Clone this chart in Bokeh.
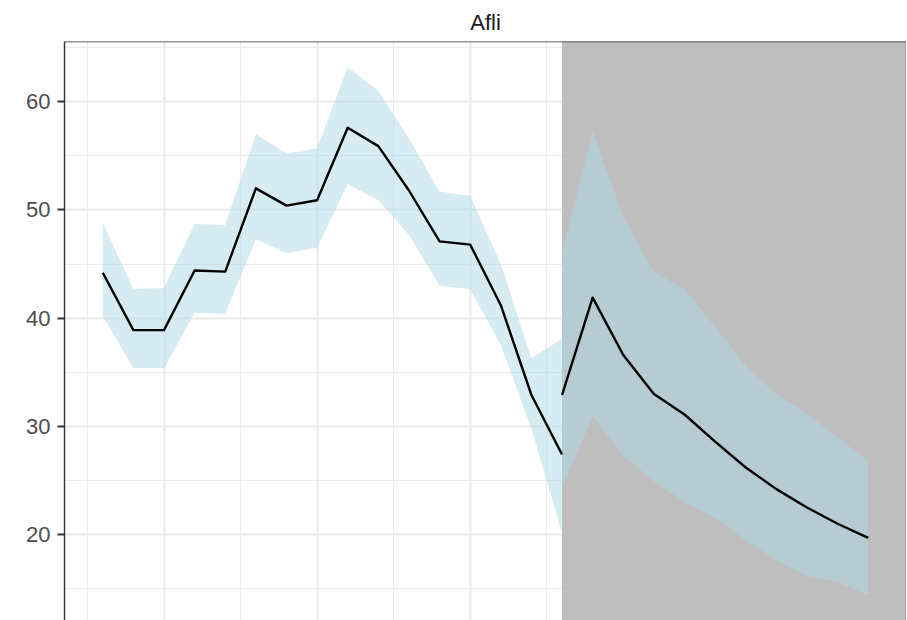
from bokeh.plotting import figure
from bokeh.models import Range1d, FixedTicker, Span
from bokeh.embed import file_html
from bokeh.resources import INLINE

# ---- data ----
hist_years = list(range(1998, 2014))
hist_mid = [44.2, 38.9, 38.9, 44.4, 44.3, 52.0, 50.4, 50.9, 57.6, 55.9, 51.8, 47.1, 46.8, 41.2, 32.9, 27.4]
hist_upper = [48.8, 42.7, 42.8, 48.7, 48.6, 57.0, 55.2, 55.7, 63.2, 61.0, 56.6, 51.7, 51.3, 45.0, 36.3, 38.1]
hist_lower = [40.2, 35.4, 35.4, 40.5, 40.4, 47.3, 46.0, 46.5, 52.4, 50.9, 47.7, 43.0, 42.7, 37.5, 29.8, 20.1]

fc_years = list(range(2013, 2024))
fc_mid = [32.9, 41.9, 36.6, 33.0, 31.1, 28.6, 26.2, 24.2, 22.5, 21.0, 19.7]
fc_upper = [46.1, 57.3, 49.4, 44.3, 42.7, 39.2, 35.6, 33.0, 31.2, 29.0, 26.8]
fc_lower = [24.4, 30.9, 27.3, 24.9, 23.0, 21.5, 19.5, 17.6, 16.2, 15.6, 14.4]

shade_start = 2013
title_text = "Afli"
y_ticks = [20, 30, 40, 50, 60]
y_minor = [15, 25, 35, 45, 55, 65]
x_ticks = [1995, 2000, 2005, 2010, 2015, 2020, 2025]
x_minor = [1997.5, 2002.5, 2007.5, 2012.5, 2017.5, 2022.5]

X0, X1 = 1996.75, 2024.25
Y0, Y1 = 12.06, 65.57

p = figure(width=906, height=620, output_backend="svg", toolbar_location=None,
           x_range=Range1d(X0, X1), y_range=Range1d(Y0, Y1),
           min_border_left=64, min_border_right=0, min_border_bottom=0, min_border_top=41)

p.title.text = title_text
p.title.align = "center"
p.title.text_font = "Liberation Sans"
p.title.text_font_size = "22px"
p.title.text_font_style = "normal"
p.title.text_color = "#1A1A1A"
p.title.text_line_height = 0.7
p.title.padding = 0
p.title.standoff = 14
p.title.offset = 0

p.background_fill_color = "white"
p.border_fill_color = "white"
p.outline_line_color = None

# x axis hidden (cropped in reference)
p.xaxis.visible = False
p.xgrid.ticker = FixedTicker(ticks=x_ticks, minor_ticks=x_minor)
p.xgrid.grid_line_color = "#EBEBEB"
p.xgrid.grid_line_width = 2
p.xgrid.minor_grid_line_color = "#EBEBEB"
p.xgrid.minor_grid_line_width = 1

yt = FixedTicker(ticks=y_ticks, minor_ticks=y_minor)
p.yaxis.ticker = yt
p.ygrid.ticker = yt
p.ygrid.grid_line_color = "#EBEBEB"
p.ygrid.grid_line_width = 2
p.ygrid.minor_grid_line_color = "#EBEBEB"
p.ygrid.minor_grid_line_width = 1

p.yaxis.axis_line_color = "#333333"
p.yaxis.axis_line_width = 1.4
p.yaxis.major_tick_line_color = "#333333"
p.yaxis.major_tick_line_width = 2
p.yaxis.major_tick_out = 7
p.yaxis.major_tick_in = 0
p.yaxis.minor_tick_out = 0
p.yaxis.minor_tick_in = 0
p.yaxis.major_label_standoff = 7
p.yaxis.major_label_text_font = "Liberation Sans"
p.yaxis.major_label_text_font_size = "22px"
p.yaxis.major_label_text_color = "#4D4D4D"

# shaded forecast region
p.quad(left=[shade_start], right=[X1 + 10], bottom=[Y0 - 100], top=[Y1 + 100],
       fill_color="#BEBEBE", line_color=None)

# ribbons
p.varea(x=hist_years, y1=hist_lower, y2=hist_upper, fill_color="#ADD8E6", fill_alpha=0.5)
p.varea(x=fc_years, y1=fc_lower, y2=fc_upper, fill_color="#ADD8E6", fill_alpha=0.5)

# lines
p.line(hist_years, hist_mid, line_color="black", line_width=2.4, line_join="round")
p.line(fc_years, fc_mid, line_color="black", line_width=2.4, line_join="round")

# panel border (top and right; left is the axis line)
p.add_layout(Span(location=Y1, dimension="width", line_color="#333333", line_width=1.4))
p.add_layout(Span(location=X1, dimension="height", line_color="#333333", line_width=1.4))

open("out.html", "w").write(file_html(p, INLINE))
